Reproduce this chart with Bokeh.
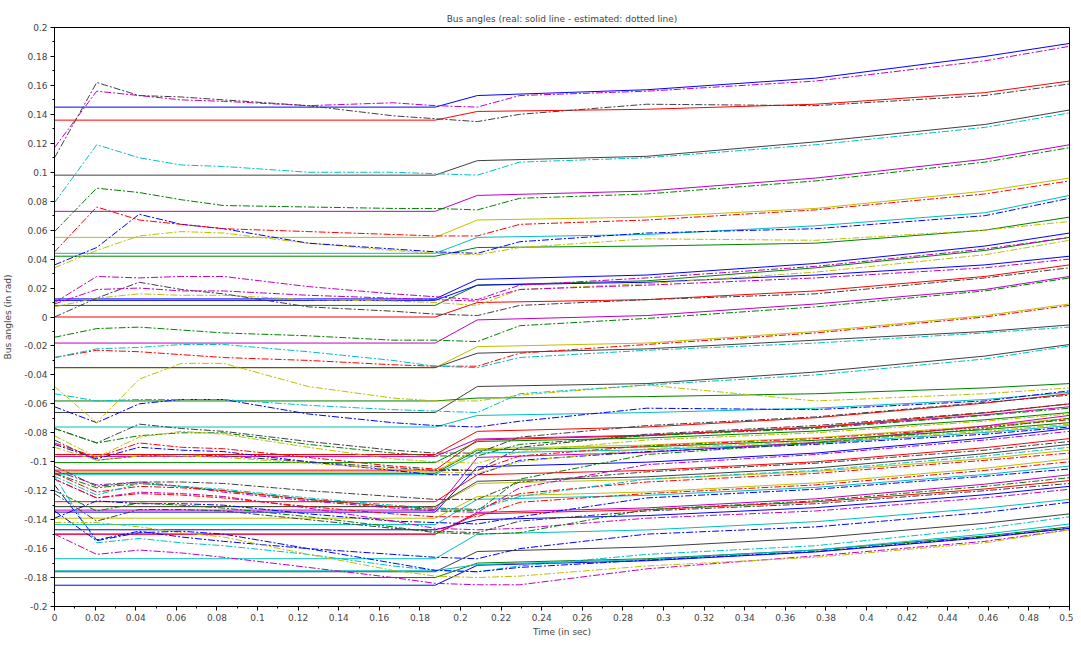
from bokeh.plotting import figure
from bokeh.models import Range1d, SingleIntervalTicker, CustomJSTickFormatter
from bokeh.embed import file_html
from bokeh.resources import INLINE

TITLE = "Bus angles (real: solid line - estimated: dotted line)"
X_LABEL = "Time (in sec)"
Y_LABEL = "Bus angles (in rad)"

# sample times
t_real = [0.0, 0.1875, 0.2083, 0.2917, 0.375, 0.4583, 0.5]
t_est = [0.0, 0.0208, 0.0417, 0.0625, 0.0833, 0.125, 0.1667, 0.1875,
         0.2083, 0.2292, 0.2917, 0.375, 0.4583, 0.5]

# real bus angles (solid lines), bus 1..39
real_b01 = [0.145, 0.145, 0.153, 0.157, 0.165, 0.180, 0.189]
real_b02 = [0.042, 0.042, 0.048, 0.049, 0.051, 0.060, 0.069]
real_b03 = [0.136, 0.136, 0.142, 0.1435, 0.147, 0.155, 0.163]
real_b04 = [0.044, 0.044, 0.055, 0.057, 0.063, 0.072, 0.084]
real_b05 = [0.073, 0.073, 0.084, 0.087, 0.096, 0.109, 0.119]
real_b06 = [0.055, 0.055, 0.067, 0.069, 0.075, 0.087, 0.096]
real_b07 = [0.098, 0.098, 0.108, 0.111, 0.121, 0.133, 0.143]
real_b08 = [0.0125, 0.0125, 0.026, 0.029, 0.037, 0.049, 0.058]
real_b09 = [0.008, 0.008, 0.022, 0.025, 0.034, 0.046, 0.055]
real_b10 = [0.0, 0.0, 0.010, 0.012, 0.018, 0.028, 0.036]
real_b11 = [-0.076, -0.076, -0.068, -0.066, -0.063, -0.057, -0.052]
real_b12 = [-0.018, -0.018, -0.002, 0.001, 0.009, 0.019, 0.028]
real_b13 = [-0.035, -0.035, -0.0205, -0.018, -0.010, 0.001, 0.009]
real_b14 = [-0.035, -0.035, -0.025, -0.022, -0.016, -0.010, -0.0055]
real_b15 = [0.0115, 0.0115, 0.022, 0.024, 0.029, 0.036, 0.042]
real_b16 = [-0.058, -0.058, -0.056, -0.055, -0.053, -0.049, -0.046]
real_b17 = [-0.095, -0.095, -0.079, -0.076, -0.0696, -0.0595, -0.053]
real_b18 = [-0.109, -0.109, -0.094, -0.0917, -0.0872, -0.0798, -0.075]
real_b19 = [-0.0963, -0.0963, -0.0843, -0.0816, -0.0763, -0.0676, -0.062]
real_b20 = [-0.107, -0.107, -0.091, -0.0885, -0.0834, -0.0753, -0.070]
real_b21 = [-0.066, -0.066, -0.048, -0.046, -0.038, -0.027, -0.019]
real_b22 = [-0.1348, -0.1348, -0.1035, -0.1003, -0.094, -0.0836, -0.077]
real_b23 = [-0.1006, -0.1006, -0.086, -0.0836, -0.0788, -0.071, -0.066]
real_b24 = [-0.1058, -0.1058, -0.085, -0.082, -0.076, -0.0663, -0.060]
real_b25 = [-0.1434, -0.1434, -0.126, -0.1232, -0.1177, -0.1088, -0.103]
real_b26 = [-0.1334, -0.1334, -0.097, -0.0935, -0.0866, -0.0753, -0.068]
real_b27 = [-0.131, -0.131, -0.115, -0.1122, -0.1067, -0.0978, -0.092]
real_b28 = [-0.131, -0.131, -0.1135, -0.1104, -0.1043, -0.0944, -0.088]
real_b29 = [-0.147, -0.147, -0.140, -0.1372, -0.1317, -0.1228, -0.117]
real_b30 = [-0.108, -0.108, -0.092, -0.0897, -0.0852, -0.0778, -0.073]
real_b31 = [-0.1276, -0.1276, -0.109, -0.106, -0.100, -0.0903, -0.084]
real_b32 = [-0.167, -0.167, -0.150, -0.1471, -0.1414, -0.132, -0.126]
real_b33 = [-0.150, -0.150, -0.135, -0.1319, -0.1256, -0.1155, -0.109]
real_b34 = [-0.139, -0.139, -0.124, -0.1209, -0.1146, -0.1045, -0.098]
real_b35 = [-0.176, -0.176, -0.162, -0.1589, -0.1526, -0.1425, -0.136]
real_b36 = [-0.1853, -0.1853, -0.1715, -0.1684, -0.1623, -0.1524, -0.146]
real_b37 = [-0.180, -0.180, -0.170, -0.167, -0.161, -0.1513, -0.145]
real_b38 = [-0.150, -0.150, -0.136, -0.1332, -0.1277, -0.1188, -0.113]
real_b39 = [-0.1753, -0.1753, -0.171, -0.1676, -0.1609, -0.150, -0.143]

# estimated bus angles (dash-dot lines), bus 1..39
est_b01 = [0.117, 0.156, 0.153, 0.150, 0.149, 0.146, 0.148, 0.146, 0.145, 0.153, 0.156, 0.163, 0.177, 0.187]
est_b02 = [0.034, 0.046, 0.056, 0.059, 0.058, 0.051, 0.046, 0.044, 0.043, 0.048, 0.054, 0.053, 0.060, 0.066]
est_b03 = [0.110, 0.162, 0.153, 0.152, 0.150, 0.146, 0.139, 0.137, 0.135, 0.140, 0.147, 0.146, 0.153, 0.161]
est_b04 = [0.036, 0.048, 0.071, 0.064, 0.061, 0.051, 0.047, 0.045, 0.044, 0.052, 0.058, 0.061, 0.070, 0.082]
est_b05 = [0.059, 0.089, 0.086, 0.081, 0.077, 0.076, 0.075, 0.075, 0.074, 0.082, 0.085, 0.094, 0.107, 0.117]
est_b06 = [0.045, 0.076, 0.067, 0.064, 0.061, 0.059, 0.057, 0.056, 0.056, 0.064, 0.067, 0.074, 0.085, 0.094]
est_b07 = [0.079, 0.119, 0.110, 0.105, 0.104, 0.100, 0.100, 0.099, 0.098, 0.107, 0.110, 0.119, 0.131, 0.141]
est_b08 = [0.010, 0.028, 0.027, 0.028, 0.028, 0.021, 0.016, 0.014, 0.012, 0.022, 0.027, 0.035, 0.047, 0.055]
est_b09 = [0.007, 0.013, 0.016, 0.015, 0.015, 0.012, 0.011, 0.010, 0.008, 0.019, 0.023, 0.031, 0.043, 0.053]
est_b10 = [0.000, 0.013, 0.024, 0.019, 0.016, 0.007, 0.004, 0.002, 0.001, 0.008, 0.012, 0.016, 0.027, 0.034]
est_b11 = [-0.062, -0.073, -0.060, -0.057, -0.057, -0.067, -0.073, -0.075, -0.076, -0.072, -0.063, -0.064, -0.058, -0.051]
est_b12 = [-0.014, -0.008, -0.007, -0.009, -0.011, -0.013, -0.016, -0.016, -0.017, -0.006, -0.001, 0.007, 0.018, 0.027]
est_b13 = [-0.028, -0.023, -0.024, -0.026, -0.028, -0.030, -0.033, -0.034, -0.034, -0.025, -0.019, -0.011, 0.000, 0.008]
est_b14 = [-0.028, -0.022, -0.021, -0.019, -0.019, -0.024, -0.030, -0.034, -0.035, -0.028, -0.023, -0.018, -0.011, -0.007]
est_b15 = [0.009, 0.019, 0.020, 0.018, 0.018, 0.015, 0.013, 0.012, 0.011, 0.019, 0.022, 0.027, 0.034, 0.040]
est_b16 = [-0.048, -0.073, -0.043, -0.032, -0.032, -0.048, -0.056, -0.058, -0.058, -0.054, -0.047, -0.058, -0.053, -0.049]
est_b17 = [-0.077, -0.087, -0.074, -0.077, -0.079, -0.086, -0.092, -0.094, -0.094, -0.083, -0.075, -0.069, -0.059, -0.054]
est_b18 = [-0.088, -0.098, -0.090, -0.092, -0.093, -0.100, -0.106, -0.109, -0.109, -0.099, -0.093, -0.088, -0.081, -0.076]
est_b19 = [-0.077, -0.087, -0.082, -0.080, -0.080, -0.088, -0.094, -0.096, -0.096, -0.088, -0.082, -0.077, -0.068, -0.063]
est_b20 = [-0.087, -0.097, -0.087, -0.090, -0.091, -0.097, -0.103, -0.105, -0.106, -0.096, -0.089, -0.084, -0.076, -0.071]
est_b21 = [-0.053, -0.058, -0.057, -0.057, -0.057, -0.061, -0.064, -0.065, -0.066, -0.053, -0.047, -0.040, -0.029, -0.020]
est_b22 = [-0.106, -0.116, -0.114, -0.117, -0.121, -0.127, -0.132, -0.134, -0.135, -0.118, -0.102, -0.095, -0.085, -0.079]
est_b23 = [-0.082, -0.097, -0.083, -0.079, -0.081, -0.090, -0.098, -0.100, -0.101, -0.093, -0.085, -0.080, -0.072, -0.067]
est_b24 = [-0.085, -0.099, -0.096, -0.095, -0.096, -0.100, -0.104, -0.106, -0.106, -0.090, -0.081, -0.075, -0.066, -0.060]
est_b25 = [-0.139, -0.127, -0.129, -0.129, -0.130, -0.136, -0.141, -0.142, -0.143, -0.138, -0.125, -0.119, -0.110, -0.105]
est_b26 = [-0.108, -0.118, -0.115, -0.117, -0.120, -0.126, -0.131, -0.133, -0.134, -0.112, -0.095, -0.087, -0.077, -0.070]
est_b27 = [-0.108, -0.121, -0.117, -0.118, -0.120, -0.126, -0.131, -0.132, -0.133, -0.122, -0.114, -0.108, -0.099, -0.094]
est_b28 = [-0.110, -0.123, -0.115, -0.117, -0.119, -0.125, -0.130, -0.132, -0.133, -0.124, -0.112, -0.106, -0.096, -0.090]
est_b29 = [-0.112, -0.125, -0.121, -0.122, -0.124, -0.132, -0.141, -0.146, -0.147, -0.146, -0.139, -0.134, -0.125, -0.119]
est_b30 = [-0.090, -0.099, -0.096, -0.096, -0.097, -0.101, -0.105, -0.107, -0.108, -0.100, -0.091, -0.086, -0.079, -0.074]
est_b31 = [-0.103, -0.117, -0.114, -0.114, -0.115, -0.120, -0.124, -0.126, -0.126, -0.114, -0.107, -0.101, -0.092, -0.086]
est_b32 = [-0.116, -0.154, -0.148, -0.152, -0.155, -0.160, -0.164, -0.166, -0.167, -0.160, -0.150, -0.145, -0.135, -0.128]
est_b33 = [-0.120, -0.134, -0.1285, -0.130, -0.132, -0.138, -0.145, -0.149, -0.150, -0.149, -0.133, -0.127, -0.117, -0.111]
est_b34 = [-0.112, -0.125, -0.122, -0.123, -0.125, -0.131, -0.136, -0.138, -0.138, -0.128, -0.122, -0.116, -0.106, -0.100]
est_b35 = [-0.110, -0.156, -0.153, -0.156, -0.158, -0.164, -0.172, -0.175, -0.176, -0.172, -0.164, -0.158, -0.146, -0.138]
est_b36 = [-0.150, -0.164, -0.161, -0.163, -0.166, -0.173, -0.180, -0.184, -0.185, -0.185, -0.174, -0.165, -0.155, -0.147]
est_b37 = [-0.142, -0.142, -0.145, -0.149, -0.152, -0.164, -0.175, -0.179, -0.180, -0.179, -0.172, -0.166, -0.156, -0.147]
est_b38 = [-0.122, -0.141, -0.133, -0.133, -0.134, -0.140, -0.146, -0.148, -0.149, -0.141, -0.134, -0.129, -0.120, -0.115]
est_b39 = [-0.134, -0.1545, -0.149, -0.148, -0.150, -0.160, -0.170, -0.175, -0.176, -0.173, -0.168, -0.162, -0.152, -0.146]

real_series = [real_b01, real_b02, real_b03, real_b04, real_b05, real_b06, real_b07, real_b08,
               real_b09, real_b10, real_b11, real_b12, real_b13, real_b14, real_b15, real_b16,
               real_b17, real_b18, real_b19, real_b20, real_b21, real_b22, real_b23, real_b24,
               real_b25, real_b26, real_b27, real_b28, real_b29, real_b30, real_b31, real_b32,
               real_b33, real_b34, real_b35, real_b36, real_b37, real_b38, real_b39]
est_series = [est_b01, est_b02, est_b03, est_b04, est_b05, est_b06, est_b07, est_b08,
              est_b09, est_b10, est_b11, est_b12, est_b13, est_b14, est_b15, est_b16,
              est_b17, est_b18, est_b19, est_b20, est_b21, est_b22, est_b23, est_b24,
              est_b25, est_b26, est_b27, est_b28, est_b29, est_b30, est_b31, est_b32,
              est_b33, est_b34, est_b35, est_b36, est_b37, est_b38, est_b39]

# colour cycle: blue, green, red, cyan, magenta, yellow, black
palette = ["#0000ff", "#008000", "#ff0000", "#00bfbf", "#bf00bf", "#bfbf00", "#404040"]

FONT = "DejaVu Sans"

p = figure(width=1073, height=639, output_backend="svg", toolbar_location=None,
           x_range=Range1d(0, 0.5), y_range=Range1d(-0.2, 0.2), title=TITLE,
           min_border_left=53, min_border_right=4, min_border_top=27, min_border_bottom=33)
p.title.align = "center"
p.title.text_font = FONT
p.title.text_font_size = "9px"
p.title.text_font_style = "normal"
p.title.standoff = 8
p.xgrid.visible = False
p.ygrid.visible = False
p.outline_line_color = "black"
p.outline_line_alpha = 1.0
p.outline_line_width = 1
p.background_fill_color = "white"
p.border_fill_color = "white"

fmt = CustomJSTickFormatter(code="return String(Math.round(tick*100)/100);")
for ax, lab in ((p.xaxis, X_LABEL), (p.yaxis, Y_LABEL)):
    ax.ticker = SingleIntervalTicker(interval=0.02, num_minor_ticks=2)
    ax.formatter = fmt
    ax.axis_label = lab
    ax.axis_label_text_font = FONT
    ax.axis_label_text_font_size = "9px"
    ax.axis_label_text_font_style = "normal"
    ax.major_label_text_font = FONT
    ax.major_label_text_font_size = "9px"
    ax.axis_line_color = "black"
    ax.major_tick_line_color = "black"
    ax.minor_tick_line_color = "black"
    ax.major_tick_out = 4
    ax.major_tick_in = 0
    ax.minor_tick_out = 2
    ax.minor_tick_in = 0
    ax.major_label_standoff = 3
    ax.axis_label_standoff = 3
p.yaxis.axis_label_standoff = 8

n = len(real_series)
for i, ys in enumerate(real_series):
    p.line(t_real, ys, line_color=palette[i % 7], line_width=1)
for i, ys in enumerate(est_series):
    p.line(t_est, ys, line_color=palette[(i + n) % 7], line_width=1, line_dash="7 2 2 2")

open("out.html", "w").write(file_html(p, INLINE))
